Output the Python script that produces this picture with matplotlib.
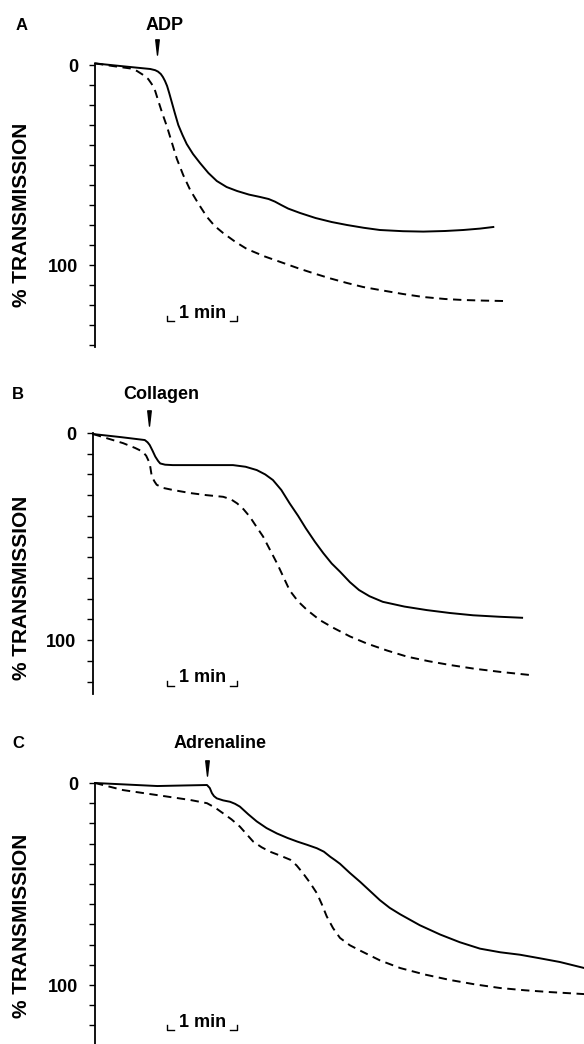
import matplotlib
matplotlib.use('Agg')
import matplotlib.pyplot as plt
from matplotlib.path import Path
import numpy as np

plt.rcParams['font.family'] = ['Liberation Sans', 'DejaVu Sans']
plt.rcParams['font.weight'] = 'bold'
plt.rcParams['lines.scale_dashes'] = False

# time in min, response in % transmission (0 at top)
adp_t_solid = [0, 0.36, 0.79, 0.86, 0.90, 0.94, 0.97, 1.00, 1.03, 1.06, 1.10, 1.14, 1.19, 1.25, 1.31, 1.40, 1.50, 1.62,
               1.74, 1.88, 2.03, 2.20, 2.36, 2.48, 2.57, 2.66, 2.76, 2.93, 3.15, 3.38, 3.60, 3.84, 4.07, 4.40, 4.69, 5.00,
               5.26, 5.50, 5.69]
adp_v_solid = [-0.8, 0.5, 2.0, 2.6, 3.3, 4.5, 6.0, 8.0, 10.5, 14.0, 19.0, 24.0, 30.0, 35.0, 39.5, 44.5, 49.0, 54.0,
               58.0, 61.0, 63.0, 64.8, 66.0, 67.0, 68.3, 70.0, 71.8, 74.0, 76.5, 78.5, 80.0, 81.4, 82.5, 83.1, 83.3, 83.0,
               82.5, 81.8, 81.0]
adp_t_dash = [0, 0.25, 0.50, 0.60, 0.69, 0.76, 0.81, 0.86, 0.90, 0.96, 1.03, 1.10, 1.17, 1.26, 1.36, 1.48, 1.60, 1.71,
              1.83, 2.00, 2.17, 2.43, 2.69, 2.90, 3.11, 3.35, 3.60, 3.83, 4.07, 4.40, 4.69, 5.00, 5.26, 5.55, 5.83]
adp_v_dash = [-0.8, 0.5, 1.7, 3.0, 5.0, 7.0, 9.5, 13.0, 17.5, 24.0, 31.0, 39.0, 47.0, 55.0, 62.5, 69.5, 76.0, 80.5,
              84.0, 88.3, 92.0, 95.8, 99.0, 101.6, 104.0, 106.6, 109.0, 111.0, 112.5, 114.5, 116.0, 117.0, 117.5, 117.8, 118.0]

col_t_solid = [0, 0.40, 0.74, 0.78, 0.81, 0.85, 0.89, 0.93, 0.96, 1.03, 1.14, 1.63, 2.00, 2.18, 2.34, 2.46, 2.57, 2.69,
               2.81, 2.93, 3.04, 3.17, 3.29, 3.41, 3.53, 3.67, 3.80, 3.95, 4.14, 4.45, 4.77, 5.10, 5.43, 5.80, 6.13]
col_v_solid = [0.5, 2.0, 3.4, 4.5, 5.8, 8.5, 11.4, 13.5, 14.7, 15.3, 15.5, 15.5, 15.5, 16.3, 17.9, 20.0, 22.7, 27.5,
               34.0, 40.0, 46.0, 52.5, 58.0, 63.0, 67.0, 72.0, 75.8, 78.8, 81.5, 83.8, 85.5, 86.9, 88.0, 88.7, 89.2]
col_t_dash = [0, 0.43, 0.60, 0.71, 0.76, 0.81, 0.84, 0.88, 0.91, 1.00, 1.14, 1.39, 1.62, 1.86, 1.97, 2.06, 2.15, 2.24,
              2.33, 2.43, 2.53, 2.63, 2.72, 2.81, 2.93, 3.06, 3.24, 3.43, 3.67, 3.91, 4.20, 4.49, 4.80, 5.10, 5.45, 5.81, 6.29]
col_v_dash = [0.5, 4.9, 7.2, 9.0, 11.0, 14.6, 21.0, 23.5, 25.0, 26.5, 27.5, 29.0, 30.0, 30.8, 32.0, 34.0, 36.8, 40.4,
              45.0, 50.0, 56.5, 63.0, 69.5, 76.0, 81.3, 85.5, 90.3, 94.0, 98.2, 101.6, 105.0, 108.0, 110.2, 112.0, 113.8,
              115.3, 117.0]

adr_t_solid = [0, 0.89, 1.30, 1.60, 1.64, 1.67, 1.70, 1.74, 1.83, 1.93, 2.00, 2.07, 2.19, 2.31, 2.45, 2.60, 2.75, 2.89,
               3.03, 3.17, 3.27, 3.36, 3.43, 3.50, 3.64, 3.79, 3.93, 4.07, 4.21, 4.36, 4.64, 4.93, 5.21, 5.50, 5.79, 6.07,
               6.36, 6.64, 6.99]
adr_v_solid = [0, 1.5, 1.2, 1.0, 2.5, 5.0, 6.5, 7.6, 8.6, 9.3, 10.3, 11.7, 15.5, 19.0, 22.3, 25.0, 27.2, 29.0,
               30.6, 32.3, 34.0, 36.5, 38.2, 40.0, 44.5, 49.0, 53.5, 58.0, 61.8, 65.0, 70.4, 75.0, 78.8, 82.0, 83.8, 85.0,
               86.8, 88.6, 91.6]
adr_t_dash = [0, 0.40, 0.89, 1.36, 1.60, 1.72, 1.83, 1.95, 2.07, 2.17, 2.26, 2.38, 2.50, 2.65, 2.79, 2.88, 2.97, 3.07,
              3.17, 3.24, 3.31, 3.40, 3.50, 3.64, 3.79, 4.07, 4.36, 4.71, 5.07, 5.43, 5.79, 6.14, 6.50, 6.99]
adr_v_dash = [0, 3.5, 6.0, 8.4, 10.0, 12.3, 15.0, 18.0, 21.6, 25.5, 29.0, 31.8, 34.0, 36.0, 38.0, 40.8, 44.6, 49.3,
              54.6, 60.0, 66.0, 71.8, 76.7, 80.3, 83.0, 87.8, 91.6, 94.8, 97.5, 99.7, 101.5, 102.6, 103.5, 104.5]

drugs = ['ADP', 'Collagen', 'Adrenaline']
letters = ['A', 'B', 'C']
drug_t = [0.89, 0.80, 1.60]   # time of addition, min

W, H = 584, 1044
PX_PER_MIN = 70.0
fig = plt.figure(figsize=(W / 100, H / 100), dpi=100)

# narrow downward wedge for the addition arrow
wedge = Path([(-0.23, 1), (0.23, 1), (0, -1), (-0.23, 1)],
             [Path.MOVETO, Path.LINETO, Path.LINETO, Path.CLOSEPOLY])


def panel(left, top, bottom, ymax):
    ax = fig.add_axes([left / W, 1 - bottom / H, (W - left) / W, (bottom - top) / H])
    ax.set_xlim(0, (W - left) / PX_PER_MIN)
    ax.set_ylim(ymax, 0)
    for s in ['top', 'right', 'bottom']:
        ax.spines[s].set_visible(False)
    ax.spines['left'].set_linewidth(1.3)
    ticks = np.arange(0, ymax + 0.5, 10)
    ax.set_yticks(ticks)
    ax.set_yticklabels(['0' if v == 0 else '100' if v == 100 else '' for v in ticks])
    ax.tick_params(axis='y', direction='out', length=4, width=1.0, pad=8, labelsize=13)
    ax.set_xticks([])
    return ax


def traces(ax, ts, vs, td, vd):
    ax.plot(ts, vs, color='k', lw=1.4, solid_joinstyle='round', clip_on=False)
    ax.plot(td, vd, color='k', lw=1.4, dashes=(6, 4), clip_on=False)


def marker(ax, t, y_arrow, y_text, dx, name):
    ax.plot([t], [y_arrow], marker=wedge, ms=11, color='k', mec='k', clip_on=False)
    ax.text(t + dx, y_text, name, ha='center', va='center', fontsize=13, clip_on=False)


def scale_bar(ax, t0, y):
    ax.text(t0 + 0.5, y, '1 min', ha='center', va='center', fontsize=13)
    yb = y + 4.0
    ax.plot([t0, t0, t0 + 0.1], [yb - 2.5, yb, yb], color='k', lw=1.0, clip_on=False)
    ax.plot([t0 + 0.9, t0 + 1, t0 + 1], [yb, yb, yb - 2.5], color='k', lw=1.0, clip_on=False)


axA = panel(95, 65, 347, 141)
traces(axA, adp_t_solid, adp_v_solid, adp_t_dash, adp_v_dash)
marker(axA, drug_t[0], -9, -20, 0.11, drugs[0])
scale_bar(axA, 1.03, 124)

axB = panel(93, 433, 694, 126)
traces(axB, col_t_solid, col_v_solid, col_t_dash, col_v_dash)
marker(axB, drug_t[1], -7.2, -18.4, 0.17, drugs[1])
scale_bar(axB, 1.06, 118)

axC = panel(95, 783, 1044, 129.2)
traces(axC, adr_t_solid, adr_v_solid, adr_t_dash, adr_v_dash)
marker(axC, drug_t[2], -7.4, -19.8, 0.18, drugs[2])
scale_bar(axC, 1.03, 118.5)

for (x, y), letter in zip([(22, 25), (18, 394), (18, 744)], letters):
    fig.text(x / W, 1 - y / H, letter, ha='center', va='center', fontsize=12)

for yc in [215, 588, 926]:
    fig.text(22 / W, 1 - yc / H, '% TRANSMISSION', rotation=90,
             ha='center', va='center', fontsize=15)

fig.savefig('out.png', dpi=100)
